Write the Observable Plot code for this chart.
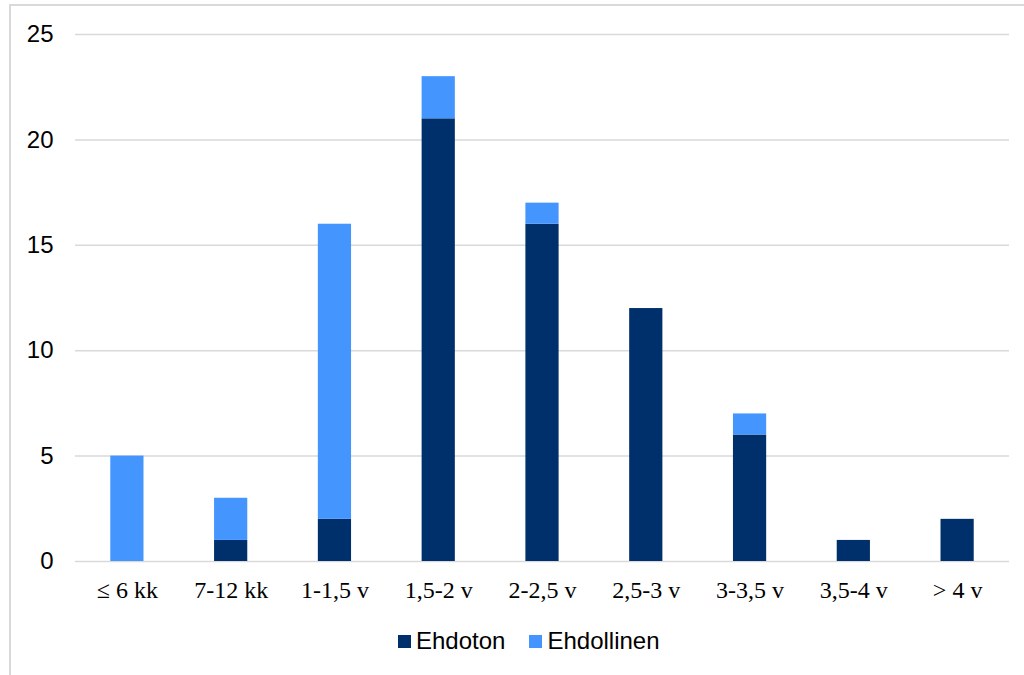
<!DOCTYPE html>
<html><head><meta charset="utf-8">
<script src="https://cdn.jsdelivr.net/npm/d3@7"></script>
<script src="https://cdn.jsdelivr.net/npm/@observablehq/plot@0.6"></script>
<style>
body{margin:0;background:#fff;}
#wrap{position:relative;width:1024px;height:675px;overflow:hidden;}
#frame{position:absolute;left:9px;top:4px;width:1100px;height:700px;border:2px solid #d9d9d9;box-sizing:border-box;}
#chart{position:absolute;left:0;top:0;}
#legend{position:absolute;top:627px;left:398px;display:flex;gap:24px;font-family:"Liberation Sans",Arial,sans-serif;font-size:24px;color:#000;white-space:nowrap;}
#legend span.item{display:flex;align-items:center;}
#legend span.sw{display:inline-block;width:13px;height:13px;margin-right:5px;}
</style></head>
<body><div id="wrap"><div id="frame"></div><div id="chart"></div>
<div id="legend"></div></div>
<script>
const categories = ["≤ 6 kk","7-12 kk","1-1,5 v","1,5-2 v","2-2,5 v","2,5-3 v","3-3,5 v","3,5-4 v","> 4 v"];
const seriesNames = ["Ehdoton","Ehdollinen"];
const ehdoton = [0,1,2,21,16,12,6,1,2];
const ehdollinen = [5,2,14,2,1,0,1,0,0];
const colors = ["#00306b","#4595ff"];
const yTicks = [0,5,10,15,20,25];

const data = [];
categories.forEach((c,i)=>{
  data.push({cat:c, series:seriesNames[0], value:ehdoton[i]});
  data.push({cat:c, series:seriesNames[1], value:ehdollinen[i]});
});

const chart = Plot.plot({
  width:1024, height:620,
  marginLeft:75, marginRight:15, marginTop:34, marginBottom:59,
  style:{background:"transparent"},
  x:{domain:categories, paddingInner:0.68, paddingOuter:0.34, round:false, label:null},
  y:{domain:[0,25], ticks:yTicks, label:null},
  color:{domain:seriesNames, range:colors},
  marks:[
    Plot.ruleY(yTicks,{stroke:"#d9d9d9",strokeWidth:1.5}),
    Plot.barY(data,{x:"cat", y:"value", fill:"series", order:seriesNames}),
    Plot.axisY({ticks:yTicks, tickSize:0, tickPadding:22, fontSize:24, fontFamily:"Liberation Sans, Arial, sans-serif", fill:"#000"}),
    Plot.axisX({tickSize:0, tickPadding:19, fontSize:24, fontFamily:"Liberation Serif, Times New Roman, serif", fill:"#000"})
  ]
});
document.getElementById("chart").appendChild(chart);

const leg = document.getElementById("legend");
seriesNames.forEach((s,i)=>{
  const it=document.createElement("span"); it.className="item";
  const sw=document.createElement("span"); sw.className="sw"; sw.style.background=colors[i];
  it.appendChild(sw); it.appendChild(document.createTextNode(s)); leg.appendChild(it);
});
</script></body></html>
